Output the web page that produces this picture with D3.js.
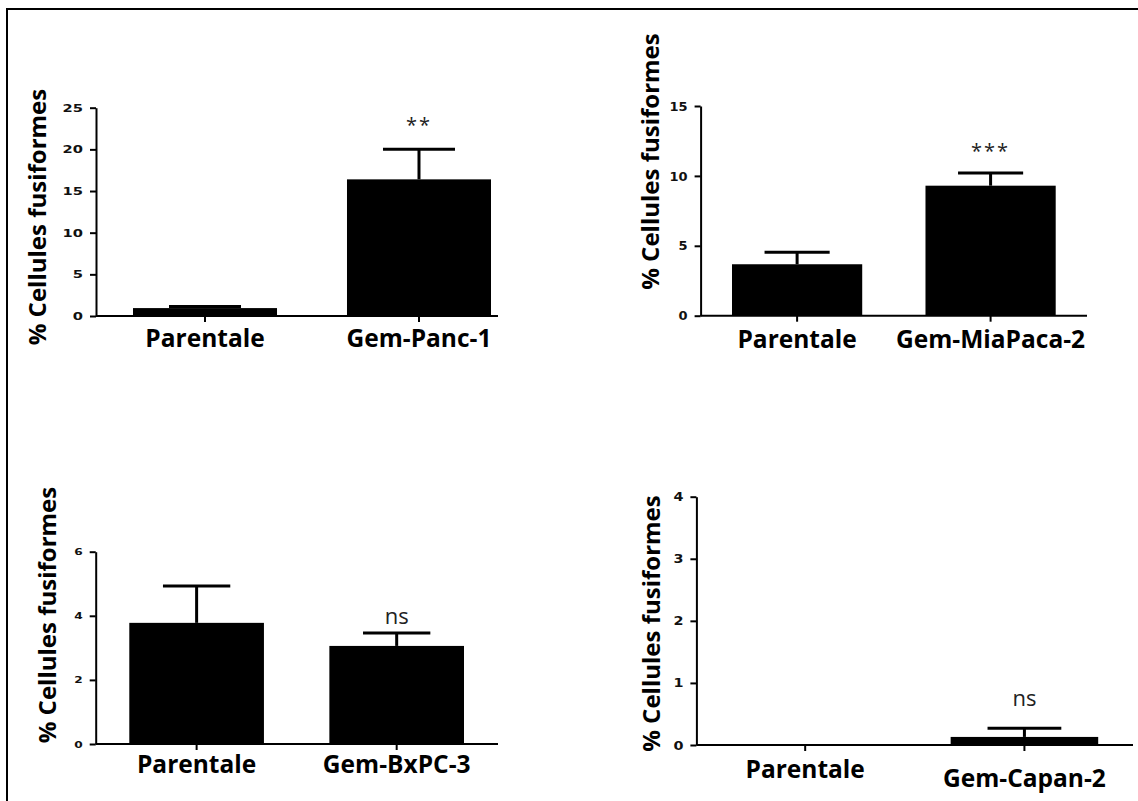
<!DOCTYPE html>
<html lang="fr">
<head>
<meta charset="UTF-8">
<title>Cellules fusiformes</title>
<script src="https://cdnjs.cloudflare.com/ajax/libs/d3/7.8.5/d3.min.js"></script>
<style>
  body { margin: 0; background: #fff; }
  svg { display: block; }
</style>
</head>
<body>
<svg id="chart" width="1138" height="801"></svg>
<script>
// data
var yTitle = "% Cellules fusiformes";

var cats1 = ["Parentale", "Gem-Panc-1"];
var vals1 = [0.95, 16.4];
var errs1 = [0.2, 3.6];
var ticks1 = [0, 5, 10, 15, 20, 25];
var sig1 = ["", "**"];

var cats2 = ["Parentale", "Gem-MiaPaca-2"];
var vals2 = [3.68, 9.3];
var errs2 = [0.85, 0.9];
var ticks2 = [0, 5, 10, 15];
var sig2 = ["", "***"];

var cats3 = ["Parentale", "Gem-BxPC-3"];
var vals3 = [3.78, 3.06];
var errs3 = [1.15, 0.4];
var ticks3 = [0, 2, 4, 6];
var sig3 = ["", "ns"];

var cats4 = ["Parentale", "Gem-Capan-2"];
var vals4 = [0, 0.13];
var errs4 = [0, 0.14];
var ticks4 = [0, 1, 2, 3, 4];
var sig4 = ["", "ns"];

// panel geometry
var panels = [
  {cats: cats1, vals: vals1, errs: errs1, ticks: ticks1, sig: sig1,
   ax: 96, axEnd: 498, y0: 316, y1: 107.7, bars: [133, 491],
   tickFont: 10.5, tickSx: 1.4, labDy: [31, 31],
   titleX: 38, titleY: 217, sigGap: 24},
  {cats: cats2, vals: vals2, errs: errs2, ticks: ticks2, sig: sig2,
   ax: 700.6, axEnd: 1087, y0: 315.7, y1: 106, bars: [732, 1055.7],
   tickFont: 13, tickSx: 1.0, labDy: [32, 32],
   titleX: 650.6, titleY: 161.5, sigGap: 22},
  {cats: cats3, vals: vals3, errs: errs3, ticks: ticks3, sig: sig3,
   ax: 95.7, axEnd: 498, y0: 744, y1: 551.7, bars: [129.3, 464],
   tickFont: 9.5, tickSx: 1.28, labDy: [29, 29],
   titleX: 48, titleY: 615, sigGap: 17},
  {cats: cats4, vals: vals4, errs: errs4, ticks: ticks4, sig: sig4,
   ax: 696.4, axEnd: 1133, y0: 745, y1: 496.7, bars: [731.4, 1098.2],
   tickFont: 12.5, tickSx: 1.15, labDy: [33, 42],
   titleX: 651.4, titleY: 623.5, sigGap: 30}
];

var svg = d3.select("#chart");

// outer frame (top and left edges only)
svg.append("path")
  .attr("d", "M7,801V9H1138")
  .attr("fill", "none")
  .attr("stroke", "#000")
  .attr("stroke-width", 2);

panels.forEach(function(p, k) {
  var g = svg.append("g").attr("class", "panel" + (k + 1));
  var rows = p.cats.map(function(c, i) {
    return {cat: c, val: p.vals[i], err: p.errs[i], sig: p.sig[i], dy: p.labDy[i]};
  });

  var scX = d3.scaleBand()
    .domain(p.cats)
    .range(p.bars)
    .paddingInner(0.327)
    .paddingOuter(0);

  var scY = d3.scaleLinear()
    .domain([0, d3.max(p.ticks)])
    .range([p.y0, p.y1]);

  var mid = function(d) { return scX(d.cat) + scX.bandwidth() / 2; };

  // bars
  g.selectAll("rect.bar")
    .data(rows.filter(function(d) { return d.val > 0; }))
    .enter()
    .append("rect")
    .attr("class", "bar")
    .attr("x", function(d) { return scX(d.cat); })
    .attr("width", scX.bandwidth())
    .attr("y", function(d) { return scY(d.val); })
    .attr("height", function(d) { return scY(0) - scY(d.val); })
    .attr("fill", "#000");

  // error bars (upper only)
  var capW = scX.bandwidth() * 0.5;
  var eb = g.selectAll("g.err")
    .data(rows.filter(function(d) { return d.err > 0; }))
    .enter()
    .append("g")
    .attr("class", "err")
    .attr("stroke", "#000")
    .attr("stroke-width", 3);
  eb.append("line")
    .attr("x1", mid)
    .attr("x2", mid)
    .attr("y1", function(d) { return scY(d.val); })
    .attr("y2", function(d) { return scY(d.val + d.err); });
  eb.append("line")
    .attr("x1", function(d) { return mid(d) - capW / 2; })
    .attr("x2", function(d) { return mid(d) + capW / 2; })
    .attr("y1", function(d) { return scY(d.val + d.err); })
    .attr("y2", function(d) { return scY(d.val + d.err); });

  // significance marks
  g.selectAll("text.sig")
    .data(rows.filter(function(d) { return d.sig; }))
    .enter()
    .append("text")
    .attr("class", "sig")
    .attr("x", mid)
    .attr("y", function(d) { return scY(d.val + d.err) - p.sigGap; })
    .attr("dy", "0.35em")
    .attr("text-anchor", "middle")
    .attr("font-family", "'Open Sans', sans-serif")
    .attr("font-size", function(d) { return d.sig === "ns" ? 22 : 20; })
    .attr("letter-spacing", function(d) { return d.sig === "ns" ? 0 : 2; })
    .attr("fill", "#222")
    .text(function(d) { return d.sig; });

  // y axis
  var yAxis = g.append("g")
    .attr("transform", "translate(" + p.ax + ",0)")
    .call(d3.axisLeft(scY).tickValues(p.ticks).tickFormat(d3.format("d"))
      .tickSize(6).tickSizeOuter(0));
  yAxis.select(".domain").attr("stroke-width", 2);
  yAxis.selectAll(".tick line").attr("stroke-width", 2);
  yAxis.selectAll(".tick text")
    .attr("font-family", "'DejaVu Sans', Verdana, sans-serif")
    .attr("font-weight", "bold")
    .attr("font-size", p.tickFont)
    .attr("fill", "#111")
    .attr("x", -13 / p.tickSx)
    .attr("transform", "scale(" + p.tickSx + ",1)");

  // x axis: baseline across the panel, ticks under each bar
  g.append("line")
    .attr("x1", p.ax)
    .attr("x2", p.axEnd)
    .attr("y1", p.y0)
    .attr("y2", p.y0)
    .attr("stroke", "#000")
    .attr("stroke-width", 2);
  var xAxis = g.append("g")
    .attr("transform", "translate(0," + p.y0 + ")")
    .call(d3.axisBottom(scX).tickSize(6).tickSizeOuter(0));
  xAxis.select(".domain").remove();
  xAxis.selectAll(".tick line").attr("stroke-width", 2);
  xAxis.selectAll(".tick text")
    .attr("y", function(d, i) { return rows[i].dy; })
    .attr("dy", 0)
    .attr("font-family", "'Open Sans', sans-serif")
    .attr("font-weight", "bold")
    .attr("font-size", 24.5)
    .attr("fill", "#000");

  // y title
  g.append("text")
    .attr("transform", "translate(" + p.titleX + "," + p.titleY + ") rotate(-90)")
    .attr("text-anchor", "middle")
    .attr("dy", "0.35em")
    .attr("font-family", "'Open Sans', sans-serif")
    .attr("font-weight", "bold")
    .attr("font-size", 24)
    .attr("fill", "#000")
    .text(yTitle);
});
</script>
</body>
</html>
